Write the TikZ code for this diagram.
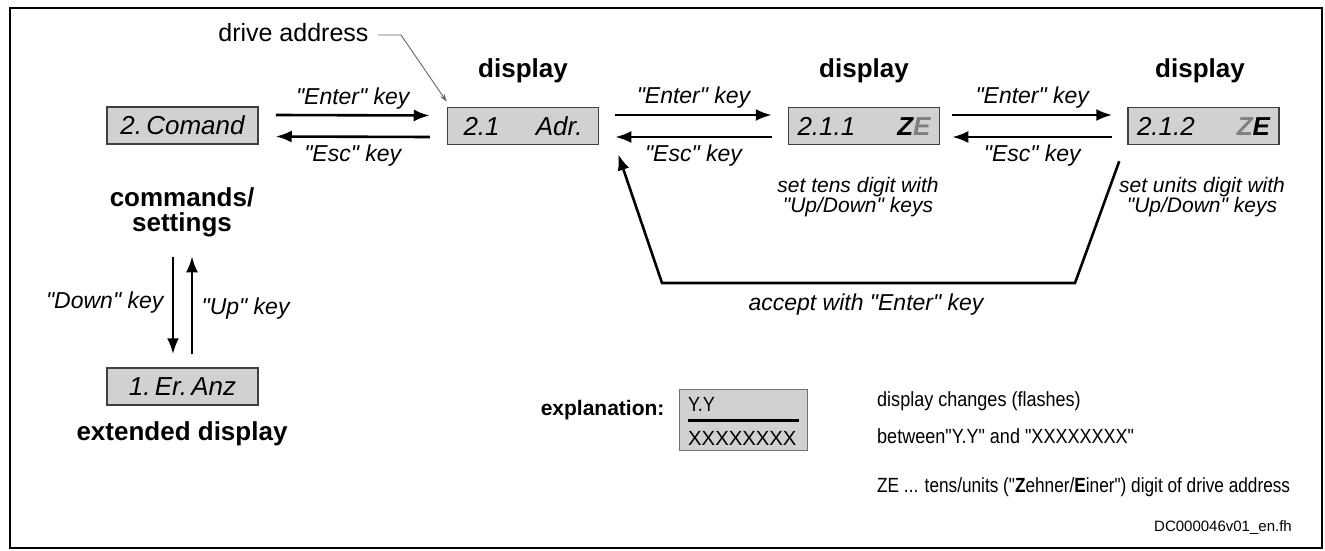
\documentclass[tikz,border=0pt]{standalone}
\usepackage{fontspec}
\setmainfont{Liberation Sans}[Ligatures=TeXOff]
\usetikzlibrary{arrows.meta,calc}
\definecolor{boxfill}{gray}{0.82}
\definecolor{boxline}{gray}{0.25}
\definecolor{dimtxt}{gray}{0.5}
\newcommand{\narrow}[2][0.88]{\scalebox{#1}[1]{#2}}
\begin{document}
\begin{tikzpicture}[x=1pt,y=-1pt,
  dispbox/.style={draw=boxline,fill=boxfill,line width=1.5pt,minimum width=151pt,
    minimum height=37pt,inner sep=0pt,font=\fontsize{26}{30}\selectfont\itshape},
  head/.style={font=\fontsize{26}{25}\selectfont\bfseries,align=center},
  keylbl/.style={font=\fontsize{23}{27}\selectfont\itshape},
  note/.style={font=\fontsize{21}{20}\selectfont\itshape,align=center},
  expl/.style={font=\fontsize{20.5}{22}\selectfont,anchor=west,inner sep=0pt},
  flow/.style={line width=2.6pt,-{Latex[length=16pt,width=12pt]}},
  leader/.style={draw=black!60,line width=0.9pt,-{Stealth[length=8pt,width=5pt]}},
]
\useasboundingbox (0,0) rectangle (1325,551);
\draw[line width=2pt] (10,8) rectangle (1322,548);

% display boxes
\node[dispbox] (cmd) at (182.5,125.5) {\makebox[131pt]{2.\,Comand}};
\node[dispbox] (adr) at (523,126) {\makebox[119pt]{2.1\hfill Adr.}};
\node[dispbox] (ze1) at (864,126) {\makebox[133pt]{2.1.1\hfill\textbf{Z}\textcolor{dimtxt}{\textbf{E}}}};
\node[dispbox] (ze2) at (1203.5,126) {\makebox[133pt]{2.1.2\hfill\textcolor{dimtxt}{\textbf{Z}}\textbf{E}}};
\node[dispbox] (anz) at (182.5,386.5) {\makebox[118pt]{1.\,Er.\,Anz}};

% headings
\node[head] (h1) at (523,71) {display};
\node[head] (h2) at (864,71) {display};
\node[head] (h3) at (1200,71) {display};
\node[head] (cs) at (182,212) {commands/\\settings};
\node[head] (ext) at (182,434) {extended display};

% drive address pointer
\node[font=\fontsize{25}{28}\selectfont,anchor=east] (drv) at (372,33) {drive address};
\draw[leader] ($(drv.east)+(6,2)$) -- ++(23,0) -- ($(adr.north west)+(0,-5)$);

% Enter / Esc transitions
\draw[flow] ($(cmd.east)+(17,-10.5)$) -- ($(adr.west)+(-17,-10.5)$)
  node[midway,keylbl,yshift=17pt] {"Enter" key};
\draw[flow] ($(adr.west)+(-17,11)$) -- ($(cmd.east)+(17,11)$)
  node[midway,keylbl,yshift=-19pt] {"Esc" key};
\draw[flow] ($(adr.east)+(16,-11)$) -- ($(ze1.west)+(-16,-11)$)
  node[midway,keylbl,yshift=17pt] {"Enter" key};
\draw[flow] ($(ze1.west)+(-16,11)$) -- ($(adr.east)+(16,11)$)
  node[midway,keylbl,yshift=-19pt] {"Esc" key};
\draw[flow] ($(ze1.east)+(12,-11)$) -- ($(ze2.west)+(-15,-11)$)
  node[midway,keylbl,yshift=17pt] {"Enter" key};
\draw[flow] ($(ze2.west)+(-15,11)$) -- ($(ze1.east)+(12,11)$)
  node[midway,keylbl,yshift=-19pt] {"Esc" key};

% Up / Down transitions
\draw[flow] ($(anz.north)+(-9.5,-110)$) -- ($(anz.north)+(-9.5,-13)$)
  node[midway,keylbl,anchor=east,xshift=-5pt,yshift=3pt] {"Down" key};
\draw[flow] ($(anz.north)+(9.5,-13)$) -- ($(anz.north)+(9.5,-111)$)
  node[midway,keylbl,anchor=west,xshift=5pt,yshift=-3pt] {"Up" key};

% digit notes
\node[note] (tens) at (858,197) {set tens digit with\\"Up/Down" keys};
\node[note] (units) at (1202,197) {set units digit with\\"Up/Down" keys};

% accept loop
\coordinate (lr) at (1075,283);
\coordinate (ll) at (662,283);
\draw[flow] ($(ze2.south west)+(-8,16)$) -- (lr) -- (ll) -- ($(adr.south east)+(19,9)$);
\node[keylbl] (acc) at (866,305) {accept with "Enter" key};

% legend
\node[font=\fontsize{21}{24}\selectfont\bfseries,anchor=east] (exl) at (668,410) {explanation:};
\node[draw=black!55,fill=boxfill,line width=1pt,minimum width=128pt,minimum height=61pt,
  anchor=north west,inner sep=0pt] (ebox) at (679,389) {};
\node[expl] (yy) at ($(ebox.west)+(9,-16)$) {\narrow{Y.Y}};
\draw[line width=2.5pt] ($(ebox.west)+(9,0.5)$) -- ($(ebox.east)+(-9,0.5)$);
\node[expl] (xx) at ($(ebox.west)+(9,18)$) {\narrow[0.99]{XXXXXXXX}};
\node[expl] (ex1) at (877,401) {\narrow{display changes (flashes)}};
\node[expl] (ex2) at (877,436) {\narrow{between"Y.Y" and "XXXXXXXX"}};
\node[expl] (ex3) at (877,487)
  {\narrow[0.84]{ZE ... tens/units ("\textbf{Z}ehner/\textbf{E}iner") digit of drive address}};
\node[font=\fontsize{15}{18}\selectfont,anchor=east,inner sep=0pt] (ref) at (1292,528) {DC000046v01\_en.fh};
\end{tikzpicture}
\end{document}
